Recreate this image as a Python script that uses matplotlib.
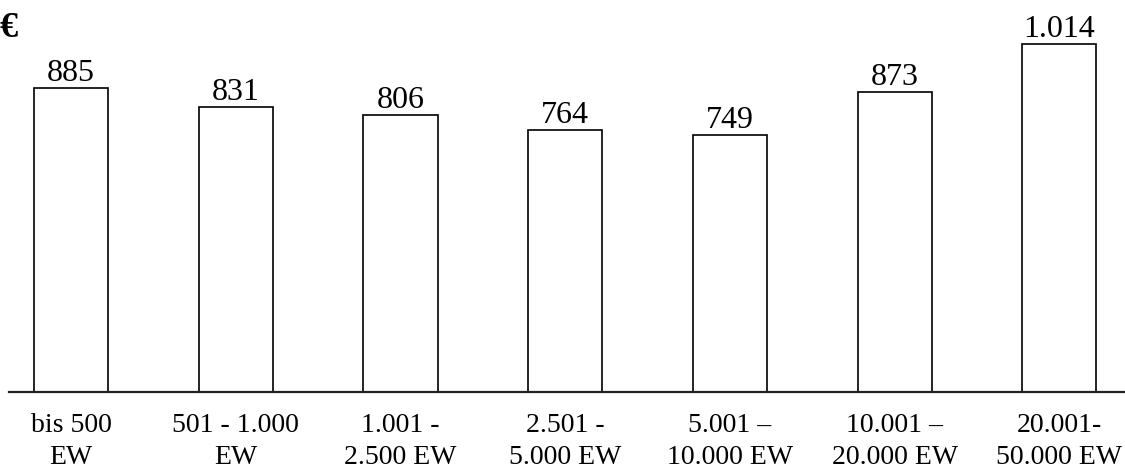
import matplotlib.pyplot as plt
import numpy as np

# Ausgaben je Einwohner nach Gemeindegrößenklasse
categories = ['bis 500\nEW', '501 - 1.000\nEW', '1.001 -\n2.500 EW', '2.501 -\n5.000 EW',
              '5.001 –\n10.000 EW', '10.001 –\n20.000 EW', '20.001-\n50.000 EW']
values = [885, 831, 806, 764, 749, 873, 1014]
value_labels = ['885', '831', '806', '764', '749', '873', '1.014']

plt.rcParams['font.family'] = ['Liberation Serif', 'DejaVu Serif']

fig = plt.figure(figsize=(11.25, 4.68), dpi=100)
# axes: bottom line at y=392 px, left edge at x=9 px
ax = fig.add_axes([9 / 1125, 76 / 468, 1116 / 1125, 392 / 468])

x = np.arange(len(categories))
bars = ax.bar(x, values, width=0.45, facecolor='white', edgecolor='black', linewidth=1.2)

for rect, lab in zip(bars, value_labels):
    ax.annotate(lab, (rect.get_x() + rect.get_width() / 2, rect.get_height()),
                xytext=(0, 5), textcoords='offset points', ha='center', va='baseline',
                fontsize=23)

ax.set_xlim(-0.376, 6.398)
ax.set_ylim(0, 1141)
ax.set_xticks(x)
ax.set_xticklabels(categories, fontsize=20, linespacing=1.36)
ax.tick_params(axis='x', length=0, pad=15)
ax.set_yticks([])
for s in ['top', 'left', 'right']:
    ax.spines[s].set_visible(False)
ax.spines['bottom'].set_linewidth(1.6)
ax.spines['bottom'].set_color('#222222')

fig.text(0, 1 - 37 / 468, '€', fontsize=26, fontweight='bold', ha='left', va='baseline')

fig.savefig('out.png', dpi=100)
